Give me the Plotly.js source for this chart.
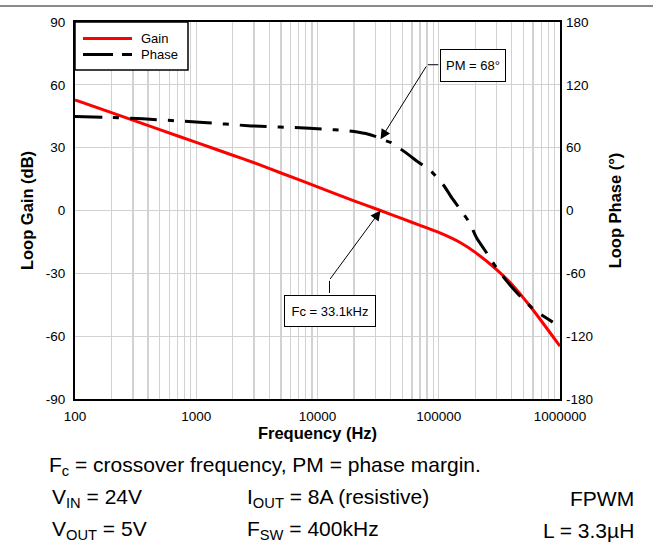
<!DOCTYPE html>
<html>
<head>
<meta charset="utf-8">
<script src="https://cdn.plot.ly/plotly-3.0.1.min.js"></script>
<style>html,body{margin:0;padding:0;background:#fff;}#chart{width:653px;height:550px;}</style>
</head>
<body>
<div id="chart"></div>
<script>
// ---- data ----
const gainFreq = [100, 200, 500, 1000, 2000, 3000, 5000, 10000, 20000, 33100, 50000, 70000, 100000, 150000, 200000, 300000, 400000, 600000, 1000000];
const gainDb   = [52.8, 46.7, 38.6, 32.5, 26.4, 22.8, 17.9, 11.3, 4.6, 0, -3.9, -7.1, -10.5, -15.3, -20, -28.2, -35.2, -47.5, -64.8];

const phaseFreq = [100, 200, 363, 1064, 2840, 8600, 13800, 18400, 25000, 31300, 33500, 40500, 52000, 67000, 87000, 110000, 130000, 153000, 180000, 205000, 250000, 288000, 350000, 437000, 617000, 871000];
const phaseDeg  = [89.7, 88.8, 87.5, 84.3, 80.8, 78.6, 77, 76, 73.5, 70, 68, 64.8, 56.2, 46.7, 37.1, 23.9, 11, 0, -12, -26, -41, -52, -65, -78, -95.2, -106.6];

const decadeVals   = [100, 1000, 10000, 100000, 1000000];
const decadeLabels = ['100', '1000', '10000', '100000', '1000000'];
const minorMults   = [2, 3, 4, 5, 6, 7, 8, 9];

const gainTicks  = [-90, -60, -30, 0, 30, 60, 90];
const phaseTicks = [-180, -120, -60, 0, 60, 120, 180];

const seriesNames  = ['Gain', 'Phase'];
const seriesColors = ['#ff0000', '#000000'];
const phaseDash = '27px,11px,6px,11px';

// ---- build ticks (major decades + minor grid) ----
const xTickVals = [], xTickText = [];
decadeVals.forEach((d, i) => {
  xTickVals.push(d); xTickText.push(decadeLabels[i]);
  if (i < decadeVals.length - 1) minorMults.forEach(m => { xTickVals.push(d * m); xTickText.push(''); });
});

const FONT = 'Liberation Sans, Arial, Helvetica, sans-serif';
const gridColor = '#d2d2d2';

const traces = [
  { x: gainFreq, y: gainDb, name: seriesNames[0], type: 'scatter', mode: 'lines',
    line: { color: seriesColors[0], width: 3, shape: 'spline', smoothing: 0.5 }, yaxis: 'y' },
  { x: phaseFreq, y: phaseDeg, name: seriesNames[1], type: 'scatter', mode: 'lines',
    line: { color: seriesColors[1], width: 3, dash: phaseDash, shape: 'spline', smoothing: 0.5 }, yaxis: 'y2' }
];

const L = 75, R = 560, T = 22, B = 399;
const px = v => (v - L) / (R - L);
const py = v => (B - v) / (B - T);

const bottomFont = { family: FONT, size: 21, color: '#000' };
function txt(text, x, y, anchor, font) {
  return { text: text, xref: 'paper', yref: 'paper', x: px(x), y: py(y), xanchor: anchor || 'left',
           yanchor: 'middle', showarrow: false, font: font || bottomFont };
}
const legendFont = { family: FONT, size: 13, color: '#000' };

const annotations = [
  // legend texts
  txt(seriesNames[0], 139, 38.5, 'left', legendFont),
  txt(seriesNames[1], 139, 54.5, 'left', legendFont),
  // PM box
  { text: 'PM = 68°', xref: 'x', yref: 'y2', x: 5.281, y: 138.6, showarrow: false,
    font: { family: FONT, size: 13, color: '#000' }, bgcolor: '#fff', bordercolor: '#000', borderwidth: 1,
    width: 62, height: 29, borderpad: 1 },
  { text: '', xref: 'x', yref: 'y2', x: Math.log10(33100), y: 68, showarrow: true, ax: 46.6, ay: -74.3,
    arrowhead: 2, arrowsize: 2, arrowwidth: 1, arrowcolor: '#000', standoff: 0, startstandoff: 0 },
  { text: '', xref: 'x', yref: 'y2', x: 4.91, y: 139.2, showarrow: true, ax: 12, ay: 0,
    arrowhead: 0, arrowwidth: 1, arrowcolor: '#000', standoff: 0, startstandoff: 0 },
  // Fc box
  { text: 'Fc = 33.1kHz', xref: 'x', yref: 'y', x: 4.103, y: -47.8, showarrow: false,
    font: { family: FONT, size: 13, color: '#000' }, bgcolor: '#fff', bordercolor: '#000', borderwidth: 1,
    width: 88, height: 28, borderpad: 1 },
  { text: '', xref: 'x', yref: 'y', x: Math.log10(33100), y: 0, showarrow: true, ax: -51.5, ay: 70,
    arrowhead: 2, arrowsize: 2, arrowwidth: 1, arrowcolor: '#000', standoff: 0, startstandoff: 0 },
  { text: '', xref: 'x', yref: 'y', x: 4.099, y: -33.6, showarrow: true, ax: 0, ay: 13.6,
    arrowhead: 0, arrowwidth: 1, arrowcolor: '#000', standoff: 0, startstandoff: 0 },

  // notes below the chart
  txt('F<sub>c</sub> = crossover frequency, PM = phase margin.', 47, 466),
  txt('V<sub>IN</sub> = 24V', 50, 498),
  txt('I<sub>OUT</sub> = 8A (resistive)', 245, 498),
  txt('FPWM', 636, 498, 'right'),
  txt('V<sub>OUT</sub> = 5V', 50, 530),
  txt('F<sub>SW</sub> = 400kHz', 245, 530),
  txt('L = 3.3µH', 636, 530, 'right')
];

const layout = {
  width: 653, height: 550,
  margin: { l: L, r: 653 - R, t: T, b: 550 - B, pad: 0 },
  paper_bgcolor: '#fff', plot_bgcolor: '#fff',
  font: { family: FONT, size: 13, color: '#000' },
  showlegend: false,
  xaxis: {
    type: 'log', range: [2, 6], tickmode: 'array', tickvals: xTickVals, ticktext: xTickText,
    showgrid: true, gridcolor: gridColor, gridwidth: 1.3, zeroline: false,
    showline: true, linecolor: '#000', linewidth: 2, mirror: true, ticks: '',
    tickfont: { family: FONT, size: 13.5, color: '#000' }, ticklabelstandoff: 4,
    title: { text: '<b>Frequency (Hz)</b>', font: { family: FONT, size: 16.5, color: '#000' }, standoff: 3 }
  },
  yaxis: {
    range: [-90, 90], tickmode: 'array', tickvals: gainTicks, ticktext: gainTicks.map(String),
    showgrid: true, gridcolor: gridColor, gridwidth: 1.3, zeroline: false,
    showline: true, linecolor: '#000', linewidth: 2, mirror: true, ticks: '',
    tickfont: { family: FONT, size: 13.5, color: '#000' }, ticklabelstandoff: 5,
    title: { text: '<b>Loop Gain (dB)</b>', font: { family: FONT, size: 16.5, color: '#000' }, standoff: 8 }
  },
  yaxis2: {
    overlaying: 'y', side: 'right', range: [-180, 180], tickmode: 'array', tickvals: phaseTicks, ticktext: phaseTicks.map(String),
    showgrid: false, zeroline: false, showline: false, ticks: '',
    tickfont: { family: FONT, size: 13.5, color: '#000' }, ticklabelstandoff: 5,
    title: { text: '<b>Loop Phase (°)</b>', font: { family: FONT, size: 16.5, color: '#000' }, standoff: 17 }
  },
  shapes: [
    { type: 'line', xref: 'paper', yref: 'paper', x0: px(0), x1: px(653), y0: py(6), y1: py(6),
      line: { color: '#8a8a8a', width: 2 } },
    { type: 'rect', xref: 'paper', yref: 'paper', x0: px(75), x1: px(188), y0: py(22), y1: py(70),
      fillcolor: '#fff', line: { color: '#000', width: 1.5 }, layer: 'above' },
    { type: 'line', xref: 'paper', yref: 'paper', x0: px(83), x1: px(132), y0: py(38.5), y1: py(38.5),
      line: { color: seriesColors[0], width: 3 }, layer: 'above' },
    { type: 'line', xref: 'paper', yref: 'paper', x0: px(83), x1: px(132), y0: py(54.5), y1: py(54.5),
      line: { color: seriesColors[1], width: 3, dash: '30px,9px,10px,40px' }, layer: 'above' }
  ],
  annotations: annotations
};

Plotly.newPlot('chart', traces, layout, { displayModeBar: false, staticPlot: true });
</script>
</body>
</html>
